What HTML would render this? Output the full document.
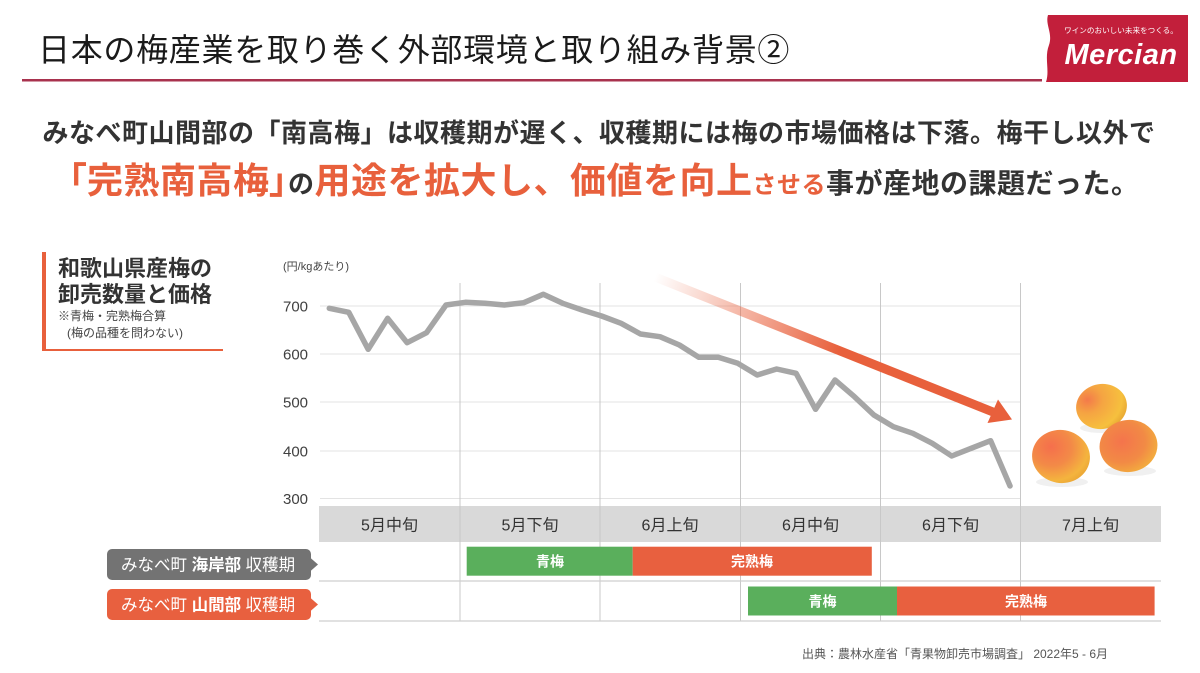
<!DOCTYPE html>
<html>
<head>
<meta charset="utf-8">
<style>
html,body{margin:0;padding:0;background:#fff;width:1200px;height:673px;overflow:hidden}
svg{display:block}
text{font-family:"Liberation Sans","Noto Sans CJK JP",sans-serif}
.palt{font-feature-settings:"palt" 1}
</style>
</head>
<body>
<svg width="1200" height="673" viewBox="0 0 1200 673" xmlns="http://www.w3.org/2000/svg">
<defs>
  <linearGradient id="arrowGrad" gradientUnits="userSpaceOnUse" x1="655" y1="277" x2="900" y2="376">
    <stop offset="0" stop-color="#e8603c" stop-opacity="0"/>
    <stop offset="0.2" stop-color="#e8603c" stop-opacity="0.25"/>
    <stop offset="0.75" stop-color="#e8603c" stop-opacity="1"/>
    <stop offset="1" stop-color="#e8603c" stop-opacity="1"/>
  </linearGradient>
  <radialGradient id="plumA" cx="0.3" cy="0.35" r="0.8">
    <stop offset="0" stop-color="#f56f4c"/>
    <stop offset="0.45" stop-color="#f38a47"/>
    <stop offset="0.8" stop-color="#f4b43e"/>
    <stop offset="1" stop-color="#e8a232"/>
  </radialGradient>
  <radialGradient id="plumB" cx="0.25" cy="0.3" r="0.85">
    <stop offset="0" stop-color="#f37a4a"/>
    <stop offset="0.35" stop-color="#f5a442"/>
    <stop offset="0.8" stop-color="#f6c03e"/>
    <stop offset="1" stop-color="#e5a431"/>
  </radialGradient>
  <radialGradient id="plumC" cx="0.4" cy="0.4" r="0.8">
    <stop offset="0" stop-color="#f4744c"/>
    <stop offset="0.5" stop-color="#f28a45"/>
    <stop offset="0.85" stop-color="#f3b23d"/>
    <stop offset="1" stop-color="#e6a031"/>
  </radialGradient>
</defs>

<!-- Title -->
<text x="38" y="61" font-size="32" fill="#1a1a1a" letter-spacing="0.7">日本の梅産業を取り巻く外部環境と取り組み背景②</text>
<rect x="22" y="79" width="1020" height="2.5" fill="#a8324e"/>

<!-- Logo -->
<path d="M1048,15 L1188,15 L1188,82 L1046,82 C1050,70 1044,58 1049,45 C1053,33 1045,25 1048,15 Z" fill="#c21f3b"/>
<text x="1121" y="33" font-size="7.6" fill="#fff" text-anchor="middle">ワインのおいしい未来をつくる。</text>
<text x="1121" y="64" font-size="29" font-weight="700" font-style="italic" fill="#fff" text-anchor="middle" letter-spacing="0.5">Mercian</text>

<!-- Headline -->
<text x="599" y="142" font-size="26" font-weight="700" fill="#333" text-anchor="middle" letter-spacing="0.5">みなべ町山間部の「南高梅」は収穫期が遅く、収穫期には梅の市場価格は下落。梅干し以外で</text>
<text x="604" y="193" font-weight="700" text-anchor="middle" letter-spacing="0.5"><tspan class="palt" font-size="36" fill="#e8603c">「完熟南高梅」</tspan><tspan font-size="26" fill="#333">の</tspan><tspan font-size="36" fill="#e8603c">用途を拡大し、価値を向上</tspan><tspan font-size="24" fill="#e8603c">させる</tspan><tspan font-size="28" fill="#333">事が産地の課題だった。</tspan></text>

<!-- Left label -->
<rect x="42" y="252" width="4" height="99" fill="#e8603c"/>
<rect x="42" y="349" width="181" height="2" fill="#e8603c"/>
<text x="58" y="276" font-size="22" font-weight="700" fill="#333">和歌山県産梅の</text>
<text x="58" y="302" font-size="22" font-weight="700" fill="#333">卸売数量と価格</text>
<text x="58" y="320" font-size="12" fill="#444">※青梅・完熟梅合算</text>
<text x="67" y="337" font-size="12" fill="#444">(梅の品種を問わない)</text>

<!-- Unit -->
<text x="283" y="270" font-size="11" fill="#444">(円/kgあたり)</text>

<!-- Horizontal gridlines -->
<g stroke="#e3e3e3" stroke-width="1">
  <line x1="320" y1="306" x2="1020" y2="306"/>
  <line x1="320" y1="354" x2="1020" y2="354"/>
  <line x1="320" y1="402" x2="1020" y2="402"/>
  <line x1="320" y1="451" x2="1020" y2="451"/>
  <line x1="320" y1="498.5" x2="1020" y2="498.5"/>
</g>

<!-- Y labels -->
<g font-size="15" fill="#404040">
  <text x="283" y="311.5">700</text>
  <text x="283" y="359.5">600</text>
  <text x="283" y="407.5">500</text>
  <text x="283" y="456.5">400</text>
  <text x="283" y="504">300</text>
</g>

<!-- Header band -->
<rect x="319" y="506" width="842" height="36" fill="#d9d9d9"/>

<!-- Vertical lines -->
<g stroke="#c8c8c8" stroke-width="1">
  <line x1="460" y1="283" x2="460" y2="621"/>
  <line x1="600" y1="283" x2="600" y2="621"/>
  <line x1="740.5" y1="283" x2="740.5" y2="621"/>
  <line x1="880.5" y1="283" x2="880.5" y2="621"/>
  <line x1="1020.5" y1="283" x2="1020.5" y2="621"/>
</g>

<!-- Row lines -->
<g stroke="#cfcfcf" stroke-width="1.2">
  <line x1="319" y1="581" x2="1161" y2="581"/>
  <line x1="319" y1="621" x2="1161" y2="621"/>
</g>

<!-- Band labels -->
<g font-size="16" fill="#333" text-anchor="middle">
  <text x="389.5" y="530.5">5月中旬</text>
  <text x="530" y="530.5">5月下旬</text>
  <text x="670" y="530.5">6月上旬</text>
  <text x="810.5" y="530.5">6月中旬</text>
  <text x="950.5" y="530.5">6月下旬</text>
  <text x="1090.5" y="530.5">7月上旬</text>
</g>

<!-- Bars -->
<rect x="466.7" y="546.7" width="166" height="29" fill="#5aaf5c"/>
<rect x="632.7" y="546.7" width="239.1" height="29" fill="#e8603f"/>
<rect x="748" y="586.5" width="149" height="29" fill="#5aaf5c"/>
<rect x="897" y="586.5" width="257.6" height="29" fill="#e8603f"/>
<g font-size="14" font-weight="700" fill="#fff" text-anchor="middle">
  <text x="550" y="566.5">青梅</text>
  <text x="752" y="566.5">完熟梅</text>
  <text x="822.5" y="606.5">青梅</text>
  <text x="1026" y="606.5">完熟梅</text>
</g>

<!-- Row labels -->
<rect x="107" y="549" width="204" height="31" rx="5" fill="#737373"/>
<polygon points="310,557.5 318,564.5 310,571.5" fill="#737373"/>
<rect x="107" y="589" width="204" height="31" rx="5" fill="#e8603f"/>
<polygon points="310,597.5 318,604.5 310,611.5" fill="#e8603f"/>
<text x="121" y="570.5" font-size="16.5" fill="#fff">みなべ町 <tspan font-weight="700">海岸部</tspan> 収穫期</text>
<text x="121" y="610.5" font-size="16.5" fill="#fff">みなべ町 <tspan font-weight="700">山間部</tspan> 収穫期</text>

<!-- Arrow -->
<line x1="655" y1="277" x2="993" y2="412" stroke="url(#arrowGrad)" stroke-width="9"/>
<polygon points="1012,419.5 987.5,423 998,399.5" fill="#e8603c"/>

<!-- Price line -->
<polyline fill="none" stroke="#a6a6a6" stroke-width="5.5" stroke-linejoin="round" stroke-linecap="round"
points="329.3,308.3 348.75,312.3 368.2,349.3 387.65,318.3 407.1,342.7 426.55,332.7 446,305 465.45,302.3 484.9,303.3 504.35,305 523.8,302.7 543.25,294.3 562.7,303.3 582.15,310 601.6,316 621.05,323.3 640.5,334 659.95,336.7 679.4,345 698.85,357.3 718.3,357.3 737.75,363.3 757.2,375 776.65,369 796.1,373.3 815.55,409.3 835,380 854.45,396.7 873.9,415 893.35,426.7 912.8,433.3 932.25,443.3 951.7,456 971.15,448.3 990.6,440.7 1010.05,486"/>

<!-- Plums -->
<ellipse cx="1102" cy="428" rx="22" ry="5" fill="#000" opacity="0.06"/>
<ellipse cx="1062" cy="482" rx="26" ry="5" fill="#000" opacity="0.06"/>
<ellipse cx="1130" cy="471" rx="26" ry="5" fill="#000" opacity="0.06"/>
<ellipse cx="1101.5" cy="406.5" rx="25.5" ry="22.5" fill="url(#plumB)" transform="rotate(-10 1101.5 406.5)"/>
<ellipse cx="1061" cy="456.5" rx="29" ry="26.5" fill="url(#plumA)" transform="rotate(10 1061 456.5)"/>
<ellipse cx="1128.5" cy="446" rx="29" ry="26" fill="url(#plumC)" transform="rotate(-8 1128.5 446)"/>

<!-- Source -->
<text x="802" y="658" font-size="12" fill="#555">出典：農林水産省「青果物卸売市場調査」 2022年5 - 6月</text>
</svg>
</body>
</html>
